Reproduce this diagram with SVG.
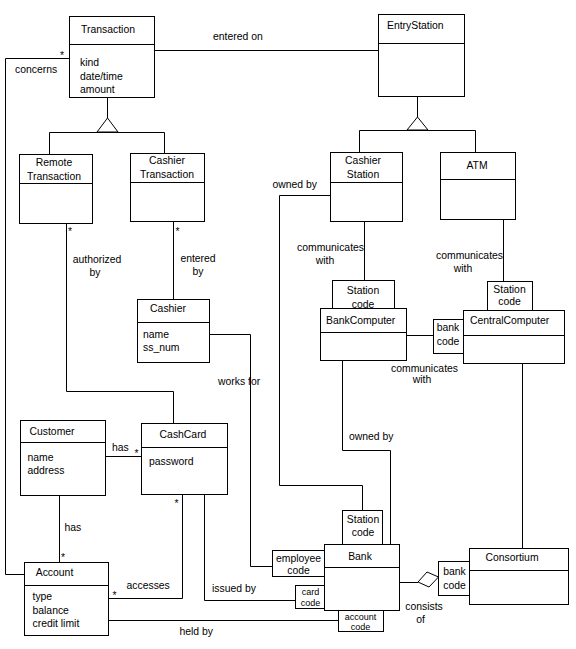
<svg xmlns="http://www.w3.org/2000/svg" width="576" height="649" viewBox="0 0 576 649">
<style>
rect{fill:#fff;stroke:#000;stroke-width:1}
path{fill:none;stroke:#000;stroke-width:1}
polygon{fill:#fff;stroke:#000;stroke-width:1}
text{font-family:"Liberation Sans",Arial,sans-serif;font-size:10.4px;fill:#000}
.m{text-anchor:middle}
.e{text-anchor:end}
.s{font-size:9px}
</style>
<rect x="0" y="0" width="576" height="649" style="stroke:none"/>
<g id="connectors">
<path d="M154.5,50.5 H378.5"/>
<path d="M69.5,58.5 H5.5 V574.5 H24.5"/>
<path d="M107.5,97 V118"/>
<polygon points="107.5,118 97,132 118,132"/>
<path d="M49.5,132.5 H164.5 M49.5,132.5 V154 M164.5,132.5 V153"/>
<path d="M417.5,96 V117"/>
<polygon points="417.5,117 407,130 428,130"/>
<path d="M359.5,130.5 H475.5 M359.5,130.5 V152 M475.5,130.5 V152"/>
<path d="M66.5,223 V391.5 H173.5 V423"/>
<path d="M173.5,222 V299"/>
<path d="M330,195.5 H279.5 V485.5 H362.5 V510"/>
<path d="M364.5,222 V280"/>
<path d="M503.5,219 V281"/>
<path d="M406.5,335.5 H433.5"/>
<path d="M342.5,361 V450.5 H390.5 V544"/>
<path d="M522.5,364 V548"/>
<path d="M400,582.5 H418"/>
<polygon points="418,582 427,572 438.5,577 429,587"/>
<path d="M210,334.5 H250.5 V566.5 H272.5"/>
<path d="M105.5,456.5 H141.5"/>
<path d="M59.5,496 V562"/>
<path d="M182.5,494 V598.5 H108.5"/>
<path d="M204.5,494 V600.5 H295"/>
<path d="M108.5,620.5 H338.5"/>
</g>
<g id="transaction">
<rect x="69.5" y="16.5" width="85" height="81"/><path d="M69.5,44.5 H154.5"/>
<text class="m" x="108" y="33">Transaction</text>
<text x="80" y="66">kind</text><text x="80" y="79.5">date/time</text><text x="80" y="93">amount</text>
</g>
<g id="entrystation">
<rect x="378.5" y="14.5" width="86" height="82"/><path d="M378.5,43.5 H464.5"/>
<text x="387" y="28.5">EntryStation</text>
</g>
<g id="remotetransaction">
<rect x="19.5" y="154.5" width="73" height="69"/><path d="M19.5,183.5 H92.5"/>
<text class="m" x="54" y="166">Remote</text><text class="m" x="54" y="179.5">Transaction</text>
</g>
<g id="cashiertransaction">
<rect x="130.5" y="153.5" width="74" height="68"/><path d="M130.5,182.5 H204.5"/>
<text class="m" x="167" y="164">Cashier</text><text class="m" x="167" y="177.5">Transaction</text>
</g>
<g id="cashierstation">
<rect x="330.5" y="152.5" width="72" height="69"/><path d="M330.5,182.5 H402.5"/>
<text class="m" x="363" y="164">Cashier</text><text class="m" x="363" y="177.5">Station</text>
</g>
<g id="atm">
<rect x="440.5" y="152.5" width="75" height="67"/><path d="M440.5,179.5 H515.5"/>
<text class="m" x="477" y="168.5">ATM</text>
</g>
<g id="bankcomputer">
<rect x="332.5" y="280.5" width="62" height="28"/>
<text class="m" x="363" y="293.5">Station</text><text class="m" x="363" y="307.5">code</text>
<rect x="320.5" y="308.5" width="86" height="52"/><path d="M320.5,332.5 H406.5"/>
<text x="326" y="323.5">BankComputer</text>
</g>
<g id="centralcomputer">
<rect x="487.5" y="281.5" width="45" height="29"/>
<text class="m" x="509.5" y="293">Station</text><text class="m" x="509.5" y="304.5">code</text>
<rect x="463.5" y="310.5" width="101" height="53"/><path d="M463.5,335.5 H564.5"/>
<text x="470" y="323.5">CentralComputer</text>
<rect x="433.5" y="319.5" width="30" height="34"/>
<text class="m" x="448" y="331">bank</text><text class="m" x="448" y="345">code</text>
</g>
<g id="cashier">
<rect x="137.5" y="299.5" width="72" height="63"/><path d="M137.5,322.5 H209.5"/>
<text class="m" x="168" y="312">Cashier</text>
<text x="143" y="337.5">name</text><text x="143" y="350.5">ss_num</text>
</g>
<g id="customer">
<rect x="20.5" y="420.5" width="85" height="75"/><path d="M20.5,442.5 H105.5"/>
<text x="29.5" y="434.5">Customer</text>
<text x="27.5" y="460.5">name</text><text x="27.5" y="473.5">address</text>
</g>
<g id="cashcard">
<rect x="141.5" y="423.5" width="86" height="71"/><path d="M141.5,447.5 H227.5"/>
<text class="m" x="183" y="438">CashCard</text>
<text x="149" y="465">password</text>
</g>
<g id="account">
<rect x="24.5" y="562.5" width="84" height="73"/><path d="M24.5,585.5 H108.5"/>
<text class="m" x="54.5" y="576">Account</text>
<text x="32.5" y="600">type</text><text x="32.5" y="613.5">balance</text><text x="32.5" y="626.5">credit limit</text>
</g>
<g id="bank">
<rect x="342.5" y="510.5" width="40" height="34"/>
<text class="m" x="363" y="522.5">Station</text><text class="m" x="363" y="536">code</text>
<rect x="324.5" y="544.5" width="75" height="66"/><path d="M324.5,567.5 H399.5"/>
<text class="m" x="360" y="560">Bank</text>
<rect x="272.5" y="550.5" width="52" height="26"/>
<text class="m" x="298.5" y="562">employee</text><text class="m" x="298.5" y="573.5">code</text>
<rect x="295.5" y="585.5" width="29" height="23"/>
<text class="m s" x="310.5" y="595">card</text><text class="m s" x="310.5" y="605.5">code</text>
<rect x="338.5" y="610.5" width="45" height="21"/>
<text class="m s" x="360.5" y="619.5">account</text><text class="m s" x="360.5" y="629.5">code</text>
</g>
<g id="consortium">
<rect x="469.5" y="548.5" width="99" height="56"/><path d="M469.5,570.5 H568.5"/>
<text class="m" x="512" y="561">Consortium</text>
<rect x="438.5" y="561.5" width="31" height="34"/>
<text class="m" x="454.5" y="575">bank</text><text class="m" x="454.5" y="588.5">code</text>
</g>
<g id="labels">
<text x="213" y="39.5">entered on</text>
<text x="60" y="59">*</text>
<text x="15" y="73">concerns</text>
<text x="68" y="235">*</text>
<text class="m" x="97" y="262.5">authorized</text><text class="m" x="95" y="275.5">by</text>
<text x="175.5" y="235">*</text>
<text class="m" x="198" y="261.5">entered</text><text class="m" x="198" y="274.5">by</text>
<text class="e" x="317" y="188">owned by</text>
<text x="297" y="251">communicates</text><text class="m" x="325" y="264">with</text>
<text x="436" y="258.5">communicates</text><text class="m" x="463" y="272">with</text>
<text x="391" y="372">communicates</text><text class="m" x="422" y="382.5">with</text>
<text x="218" y="385">works for</text>
<text x="349" y="440">owned by</text>
<text x="112" y="450.5">has</text>
<text x="134.5" y="457">*</text>
<text x="64.5" y="531">has</text>
<text x="61" y="561">*</text>
<text x="174.5" y="506.5">*</text>
<text x="112.5" y="598.5">*</text>
<text x="126.5" y="589">accesses</text>
<text x="212" y="592">issued by</text>
<text x="179.5" y="635">held by</text>
<text class="m" x="424" y="609.5">consists</text><text class="m" x="420.5" y="623">of</text>
</g>
</svg>
